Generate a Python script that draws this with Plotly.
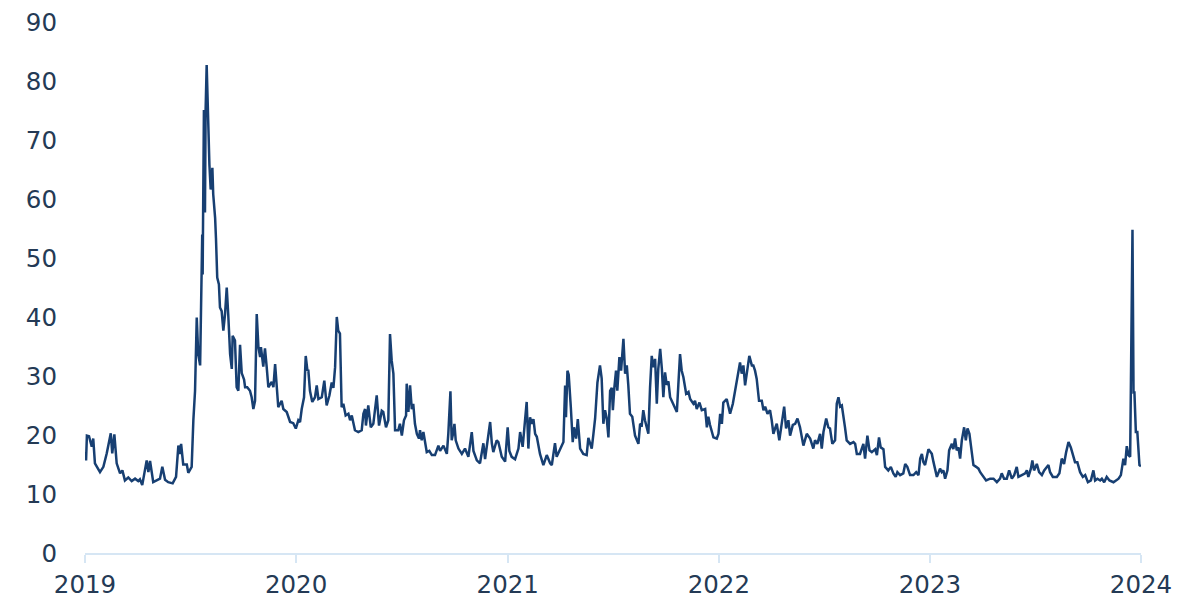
import numpy as np
import pandas as pd
import plotly.graph_objects as go

# Time in years since 1 Jan 2019, and values
years_since_2019 = [
    0.000, 0.005, 0.009, 0.019, 0.032, 0.039, 0.047, 0.071, 0.087, 0.103,
    0.122, 0.129, 0.139, 0.150, 0.166, 0.177, 0.189, 0.205, 0.221, 0.237,
    0.252, 0.260, 0.271, 0.292, 0.300, 0.308, 0.323, 0.355, 0.366, 0.379,
    0.394, 0.415, 0.431, 0.442, 0.450, 0.455, 0.465, 0.482, 0.489, 0.505,
    0.513, 0.521, 0.529, 0.536, 0.545, 0.549, 0.555, 0.557, 0.563, 0.568,
    0.571, 0.576, 0.581, 0.584, 0.589, 0.595, 0.603, 0.607, 0.616, 0.620,
    0.626, 0.634, 0.639, 0.647, 0.655, 0.663, 0.671, 0.678, 0.687, 0.695,
    0.699, 0.710, 0.718, 0.726, 0.734, 0.742, 0.753, 0.758, 0.768, 0.781,
    0.789, 0.797, 0.805, 0.813, 0.821, 0.829, 0.833, 0.844, 0.852, 0.860,
    0.868, 0.884, 0.892, 0.900, 0.908, 0.915, 0.931, 0.939, 0.955, 0.971,
    0.986, 0.998, 1.010, 1.018, 1.026, 1.037, 1.045, 1.053, 1.057, 1.065,
    1.076, 1.089, 1.097, 1.105, 1.121, 1.133, 1.144, 1.157, 1.168, 1.176,
    1.184, 1.192, 1.199, 1.207, 1.215, 1.223, 1.234, 1.247, 1.255, 1.263,
    1.278, 1.294, 1.310, 1.318, 1.326, 1.330, 1.341, 1.353, 1.365, 1.381,
    1.392, 1.405, 1.412, 1.425, 1.436, 1.444, 1.452, 1.460, 1.468, 1.483,
    1.491, 1.500, 1.510, 1.520, 1.523, 1.531, 1.539, 1.547, 1.554, 1.562,
    1.571, 1.581, 1.586, 1.594, 1.602, 1.610, 1.618, 1.630, 1.642, 1.657,
    1.673, 1.681, 1.697, 1.713, 1.720, 1.730, 1.736, 1.744, 1.749, 1.755,
    1.768, 1.784, 1.799, 1.815, 1.831, 1.839, 1.855, 1.870, 1.886, 1.894,
    1.910, 1.918, 1.926, 1.933, 1.949, 1.957, 1.973, 1.989, 2.001, 2.009,
    2.020, 2.036, 2.052, 2.060, 2.072, 2.083, 2.091, 2.099, 2.107, 2.115,
    2.123, 2.131, 2.139, 2.154, 2.170, 2.186, 2.202, 2.210, 2.225, 2.233,
    2.249, 2.265, 2.273, 2.277, 2.284, 2.290, 2.300, 2.309, 2.315, 2.325,
    2.333, 2.344, 2.359, 2.375, 2.383, 2.399, 2.407, 2.415, 2.426, 2.438,
    2.446, 2.454, 2.462, 2.470, 2.478, 2.486, 2.494, 2.499, 2.506, 2.514,
    2.520, 2.530, 2.538, 2.549, 2.557, 2.565, 2.572, 2.580, 2.591, 2.604,
    2.620, 2.628, 2.636, 2.643, 2.651, 2.667, 2.675, 2.683, 2.691, 2.699,
    2.707, 2.714, 2.723, 2.731, 2.738, 2.746, 2.754, 2.762, 2.770, 2.783,
    2.794, 2.802, 2.809, 2.817, 2.825, 2.833, 2.846, 2.857, 2.865, 2.880,
    2.888, 2.896, 2.909, 2.920, 2.936, 2.944, 2.951, 2.959, 2.975, 2.991,
    2.999, 3.007, 3.015, 3.022, 3.038, 3.054, 3.067, 3.078, 3.093, 3.101,
    3.109, 3.117, 3.125, 3.133, 3.141, 3.145, 3.157, 3.164, 3.172, 3.180,
    3.191, 3.204, 3.212, 3.220, 3.231, 3.243, 3.251, 3.259, 3.267, 3.275,
    3.287, 3.299, 3.310, 3.319, 3.330, 3.338, 3.351, 3.362, 3.373, 3.385,
    3.401, 3.417, 3.433, 3.448, 3.456, 3.467, 3.480, 3.488, 3.496, 3.509,
    3.519, 3.527, 3.538, 3.551, 3.559, 3.567, 3.575, 3.583, 3.590, 3.598,
    3.606, 3.622, 3.638, 3.646, 3.654, 3.669, 3.685, 3.693, 3.704, 3.714,
    3.725, 3.741, 3.749, 3.759, 3.767, 3.780, 3.788, 3.803, 3.815, 3.827,
    3.838, 3.846, 3.859, 3.874, 3.883, 3.893, 3.906, 3.922, 3.935, 3.946,
    3.954, 3.962, 3.969, 3.977, 3.993, 4.001, 4.009, 4.017, 4.033, 4.048,
    4.056, 4.064, 4.072, 4.083, 4.091, 4.104, 4.111, 4.119, 4.127, 4.135,
    4.143, 4.151, 4.162, 4.170, 4.178, 4.187, 4.198, 4.206, 4.219, 4.230,
    4.238, 4.253, 4.266, 4.285, 4.301, 4.317, 4.332, 4.340, 4.351, 4.364,
    4.375, 4.388, 4.399, 4.411, 4.419, 4.435, 4.451, 4.459, 4.466, 4.478,
    4.485, 4.493, 4.506, 4.517, 4.530, 4.541, 4.553, 4.561, 4.569, 4.582,
    4.601, 4.613, 4.624, 4.635, 4.645, 4.656, 4.667, 4.677, 4.687, 4.698,
    4.711, 4.724, 4.735, 4.748, 4.762, 4.774, 4.782, 4.793, 4.806, 4.814,
    4.825, 4.837, 4.850, 4.869, 4.893, 4.904, 4.916, 4.924, 4.932, 4.940,
    4.948, 4.959, 4.964, 4.968, 4.975, 4.982, 4.992, 4.999,
]

values = [
    17.1, 15.7, 19.9, 19.8, 18.0, 19.4, 15.2, 13.7, 14.6, 16.9,
    20.3, 16.9, 20.1, 15.2, 13.5, 14.0, 12.3, 12.8, 12.2, 12.6,
    12.2, 12.5, 11.5, 15.7, 13.7, 15.6, 12.0, 12.6, 14.6, 12.4,
    12.0, 11.8, 12.9, 18.2, 16.8, 18.5, 15.0, 15.0, 13.6, 14.6,
    22.5, 27.5, 39.9, 33.7, 31.8, 39.4, 54.0, 47.2, 75.1, 57.7,
    75.1, 82.7, 75.9, 72.6, 65.8, 61.6, 65.3, 60.8, 56.8, 53.4,
    46.7, 45.5, 41.6, 41.0, 37.7, 40.5, 45.0, 40.5, 33.7, 31.2,
    36.8, 36.0, 28.1, 27.5, 35.3, 30.5, 29.4, 28.1, 28.1, 27.5,
    26.4, 24.4, 25.8, 40.5, 34.9, 33.2, 34.9, 31.6, 34.7, 31.6,
    28.1, 29.0, 28.1, 32.0, 27.5, 24.7, 25.8, 24.4, 23.9, 22.2,
    22.0, 21.1, 22.5, 22.2, 24.4, 26.4, 33.4, 30.9, 31.1, 27.5,
    25.6, 26.4, 28.4, 26.1, 26.4, 29.2, 25.0, 26.7, 28.9, 28.0,
    31.5, 40.0, 37.7, 37.2, 24.7, 25.3, 23.3, 23.6, 22.5, 23.3,
    20.8, 20.5, 20.8, 23.6, 24.4, 21.6, 25.0, 21.3, 21.9, 26.7,
    21.6, 24.1, 23.9, 21.3, 22.5, 37.1, 32.6, 30.4, 20.8, 20.8,
    21.9, 19.9, 22.5, 23.3, 28.7, 23.9, 28.4, 24.4, 25.3, 21.9,
    20.2, 19.4, 20.8, 19.1, 20.5, 19.1, 17.1, 17.3, 16.6, 16.6,
    18.2, 17.3, 18.2, 16.8, 20.2, 27.4, 19.1, 20.5, 21.9, 19.1,
    17.7, 16.8, 17.7, 16.3, 20.5, 17.3, 15.7, 15.2, 18.6, 15.9,
    19.7, 22.2, 18.6, 17.1, 19.1, 18.8, 16.3, 15.5, 21.3, 17.3,
    16.3, 15.9, 17.7, 20.5, 18.0, 23.0, 25.6, 17.7, 23.0, 21.9,
    22.7, 20.2, 19.7, 16.8, 14.9, 16.6, 15.2, 14.9, 18.6, 16.3,
    17.7, 18.8, 28.4, 23.0, 30.9, 30.2, 24.7, 18.8, 21.3, 19.4,
    22.7, 17.7, 16.8, 16.6, 19.5, 17.7, 20.2, 22.8, 28.9, 31.8,
    29.6, 21.9, 24.2, 22.8, 19.6, 27.5, 28.0, 24.2, 28.0, 30.9,
    27.5, 33.2, 30.9, 36.3, 30.4, 31.8, 28.5, 23.6, 23.1, 19.9,
    18.5, 21.9, 21.7, 24.2, 22.5, 20.2, 28.0, 33.4, 31.5, 32.9,
    25.3, 31.2, 34.6, 31.2, 26.4, 30.6, 28.5, 29.1, 26.4, 25.3,
    24.4, 23.9, 28.5, 33.7, 30.9, 29.8, 27.0, 27.3, 26.1, 25.3,
    25.8, 24.4, 25.5, 24.2, 24.4, 21.3, 23.1, 21.7, 19.6, 19.4,
    20.2, 23.6, 21.9, 25.5, 26.1, 23.6, 25.3, 27.5, 31.2, 32.3,
    30.4, 31.8, 28.4, 30.1, 31.9, 33.4, 31.8, 31.8, 30.9, 29.5,
    25.8, 25.8, 24.2, 24.8, 23.6, 24.2, 22.5, 20.2, 21.1, 21.9,
    19.1, 22.5, 24.8, 21.1, 22.5, 19.9, 21.7, 21.9, 22.8, 21.3,
    18.2, 20.2, 19.4, 17.7, 19.1, 18.5, 20.2, 17.7, 20.5, 22.8,
    21.3, 21.1, 18.5, 19.1, 25.3, 26.4, 24.8, 25.0, 22.8, 21.3,
    19.1, 18.5, 18.8, 18.5, 16.8, 16.8, 18.5, 16.0, 19.9, 17.4,
    17.1, 17.6, 16.6, 19.6, 17.9, 17.6, 14.6, 14.0, 14.6, 13.5,
    12.9, 13.7, 13.2, 13.5, 15.1, 14.6, 13.2, 13.2, 13.7, 13.2,
    16.0, 16.8, 15.4, 14.9, 17.6, 17.1, 16.8, 15.4, 12.9, 14.3,
    13.7, 14.0, 12.6, 14.0, 17.4, 18.5, 17.6, 19.4, 17.4, 17.9,
    16.0, 19.1, 21.3, 19.1, 21.1, 20.2, 17.6, 14.9, 14.6, 14.3,
    13.7, 12.9, 12.3, 12.6, 12.6, 12.0, 12.6, 13.5, 12.6, 12.6,
    14.0, 12.6, 13.2, 14.6, 12.9, 13.2, 13.5, 14.0, 12.9, 14.3,
    15.7, 14.0, 15.1, 13.7, 13.2, 14.0, 14.6, 14.9, 13.7, 12.9,
    12.9, 13.5, 16.0, 15.1, 17.1, 18.8, 17.9, 16.6, 15.4, 15.4,
    13.7, 12.9, 13.2, 12.0, 12.3, 14.0, 12.3, 12.6, 12.3, 12.6,
    12.0, 12.9, 12.3, 12.0, 12.6, 13.2, 16.0, 14.9, 18.1, 16.6,
    16.3, 54.8, 27.0, 27.4, 20.5, 20.5, 14.9, 14.7,
]

year_ticks = [2019, 2020, 2021, 2022, 2023, 2024]
y_ticks = [0, 10, 20, 30, 40, 50, 60, 70, 80, 90]

start = pd.Timestamp("2019-01-01")
dates = start + pd.to_timedelta(np.array(years_since_2019) * 365.25, unit="D")

text_color = "#243a55"
line_color = "#173f72"
axis_color = "#d6e6f4"
font_family = "DejaVu Sans"
font_size = 24.5

fig = go.Figure()
fig.add_trace(go.Scatter(
    x=dates, y=values, mode="lines",
    line=dict(color=line_color, width=2.5),
    hoverinfo="skip", showlegend=False,
))

fig.update_layout(
    width=1200, height=600,
    margin=dict(l=85, r=59, t=22, b=47),
    paper_bgcolor="white", plot_bgcolor="white",
    font=dict(family=font_family, size=font_size, color=text_color),
    showlegend=False,
)
fig.update_xaxes(
    type="date", automargin=False,
    range=[pd.Timestamp(f"{year_ticks[0]}-01-01"), pd.Timestamp(f"{year_ticks[-1]}-01-01")],
    tickvals=[pd.Timestamp(f"{y}-01-01") for y in year_ticks],
    ticktext=[str(y) for y in year_ticks],
    showgrid=False, zeroline=False,
    showline=True, linecolor=axis_color, linewidth=1.5,
    ticks="outside", ticklen=8, tickcolor=axis_color, tickwidth=1.5,
    ticklabelstandoff=1,
    tickfont=dict(family=font_family, size=font_size, color=text_color),
)
fig.update_yaxes(
    range=[0, 90], tickvals=y_ticks, automargin=False,
    showgrid=False, zeroline=False, showline=False,
    ticks="", ticklabelstandoff=27,
    tickfont=dict(family=font_family, size=font_size, color=text_color),
)

fig.write_html(
    "out.html",
    config={"displayModeBar": False},
    post_script="document.body.style.margin='0';document.body.style.padding='0';document.body.style.overflow='hidden';",
)
